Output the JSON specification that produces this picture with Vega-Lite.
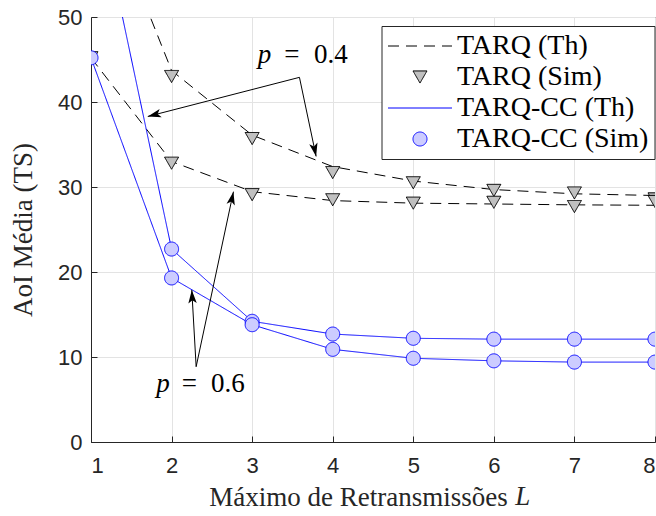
{
  "$schema": "https://vega.github.io/schema/vega-lite/v6.json",
  "width": 564,
  "height": 425,
  "autosize": {"type": "none"},
  "padding": {"left": 91, "top": 17, "right": 1, "bottom": 74},
  "background": "white",
  "config": {
    "font": "Liberation Serif, Times New Roman, DejaVu Serif, serif",
    "view": {"stroke": "#262626", "strokeWidth": 1},
    "axis": {
      "labelFont": "Liberation Sans, Arial, Helvetica, sans-serif",
      "labelFontSize": 22,
      "labelColor": "#262626",
      "titleFont": "Liberation Serif, Times New Roman, DejaVu Serif, serif",
      "titleFontSize": 27,
      "titleFontWeight": "normal",
      "titleColor": "#262626",
      "domainColor": "#262626",
      "domainWidth": 1,
      "tickColor": "#262626",
      "tickSize": -6,
      "tickWidth": 1,
      "gridColor": "#e3e3e3",
      "gridWidth": 1
    },
    "axisX": {"labelPadding": 19},
    "axisY": {"labelPadding": 15},
    "legend": {
      "orient": "none",
      "legendX": 290.5,
      "legendY": 9,
      "direction": "vertical",
      "fillColor": "white",
      "strokeColor": "#262626",
      "padding": 6,
      "rowPadding": 3,
      "labelFont": "Liberation Serif, Times New Roman, DejaVu Serif, serif",
      "labelFontSize": 28,
      "labelColor": "#000000",
      "labelLimit": 400,
      "symbolOffset": 18.5,
      "labelOffset": 23,
      "symbolSize": 196,
      "symbolStrokeWidth": 1
    }
  },
  "datasets": {
    "th": [
      {"series": "TARQ (Th)", "p": 0.4, "L": 1, "v": 67.5},
      {"series": "TARQ (Th)", "p": 0.4, "L": 2, "v": 43.7},
      {"series": "TARQ (Th)", "p": 0.4, "L": 3, "v": 36.1},
      {"series": "TARQ (Th)", "p": 0.4, "L": 4, "v": 32.4},
      {"series": "TARQ (Th)", "p": 0.4, "L": 5, "v": 30.7},
      {"series": "TARQ (Th)", "p": 0.4, "L": 6, "v": 29.7},
      {"series": "TARQ (Th)", "p": 0.4, "L": 7, "v": 29.2},
      {"series": "TARQ (Th)", "p": 0.4, "L": 8, "v": 29.0},
      {"series": "TARQ (Th)", "p": 0.6, "L": 1, "v": 45.2},
      {"series": "TARQ (Th)", "p": 0.6, "L": 2, "v": 33.0},
      {"series": "TARQ (Th)", "p": 0.6, "L": 3, "v": 29.45},
      {"series": "TARQ (Th)", "p": 0.6, "L": 4, "v": 28.4},
      {"series": "TARQ (Th)", "p": 0.6, "L": 5, "v": 28.1},
      {"series": "TARQ (Th)", "p": 0.6, "L": 6, "v": 28.0},
      {"series": "TARQ (Th)", "p": 0.6, "L": 7, "v": 27.9},
      {"series": "TARQ (Th)", "p": 0.6, "L": 8, "v": 27.85},
      {"series": "TARQ-CC (Th)", "p": 0.4, "L": 1, "v": 67.5},
      {"series": "TARQ-CC (Th)", "p": 0.4, "L": 2, "v": 22.7},
      {"series": "TARQ-CC (Th)", "p": 0.4, "L": 3, "v": 14.2},
      {"series": "TARQ-CC (Th)", "p": 0.4, "L": 4, "v": 12.7},
      {"series": "TARQ-CC (Th)", "p": 0.4, "L": 5, "v": 12.2},
      {"series": "TARQ-CC (Th)", "p": 0.4, "L": 6, "v": 12.1},
      {"series": "TARQ-CC (Th)", "p": 0.4, "L": 7, "v": 12.1},
      {"series": "TARQ-CC (Th)", "p": 0.4, "L": 8, "v": 12.1},
      {"series": "TARQ-CC (Th)", "p": 0.6, "L": 1, "v": 45.2},
      {"series": "TARQ-CC (Th)", "p": 0.6, "L": 2, "v": 19.3},
      {"series": "TARQ-CC (Th)", "p": 0.6, "L": 3, "v": 13.8},
      {"series": "TARQ-CC (Th)", "p": 0.6, "L": 4, "v": 10.9},
      {"series": "TARQ-CC (Th)", "p": 0.6, "L": 5, "v": 9.85},
      {"series": "TARQ-CC (Th)", "p": 0.6, "L": 6, "v": 9.55},
      {"series": "TARQ-CC (Th)", "p": 0.6, "L": 7, "v": 9.4},
      {"series": "TARQ-CC (Th)", "p": 0.6, "L": 8, "v": 9.4}
    ],
    "sim": [
      {"series": "TARQ (Sim)", "p": 0.4, "L": 2, "v": 43.0},
      {"series": "TARQ (Sim)", "p": 0.4, "L": 3, "v": 35.7},
      {"series": "TARQ (Sim)", "p": 0.4, "L": 4, "v": 31.7},
      {"series": "TARQ (Sim)", "p": 0.4, "L": 5, "v": 30.5},
      {"series": "TARQ (Sim)", "p": 0.4, "L": 6, "v": 29.6},
      {"series": "TARQ (Sim)", "p": 0.4, "L": 7, "v": 29.3},
      {"series": "TARQ (Sim)", "p": 0.4, "L": 8, "v": 28.6},
      {"series": "TARQ (Sim)", "p": 0.6, "L": 1, "v": 45.2},
      {"series": "TARQ (Sim)", "p": 0.6, "L": 2, "v": 32.8},
      {"series": "TARQ (Sim)", "p": 0.6, "L": 3, "v": 29.1},
      {"series": "TARQ (Sim)", "p": 0.6, "L": 4, "v": 28.5},
      {"series": "TARQ (Sim)", "p": 0.6, "L": 5, "v": 28.1},
      {"series": "TARQ (Sim)", "p": 0.6, "L": 6, "v": 28.2},
      {"series": "TARQ (Sim)", "p": 0.6, "L": 7, "v": 27.7},
      {"series": "TARQ (Sim)", "p": 0.6, "L": 8, "v": 28.3},
      {"series": "TARQ-CC (Sim)", "p": 0.4, "L": 2, "v": 22.7},
      {"series": "TARQ-CC (Sim)", "p": 0.4, "L": 3, "v": 14.2},
      {"series": "TARQ-CC (Sim)", "p": 0.4, "L": 4, "v": 12.7},
      {"series": "TARQ-CC (Sim)", "p": 0.4, "L": 5, "v": 12.2},
      {"series": "TARQ-CC (Sim)", "p": 0.4, "L": 6, "v": 12.1},
      {"series": "TARQ-CC (Sim)", "p": 0.4, "L": 7, "v": 12.1},
      {"series": "TARQ-CC (Sim)", "p": 0.4, "L": 8, "v": 12.1},
      {"series": "TARQ-CC (Sim)", "p": 0.6, "L": 1, "v": 45.2},
      {"series": "TARQ-CC (Sim)", "p": 0.6, "L": 2, "v": 19.3},
      {"series": "TARQ-CC (Sim)", "p": 0.6, "L": 3, "v": 13.8},
      {"series": "TARQ-CC (Sim)", "p": 0.6, "L": 4, "v": 10.9},
      {"series": "TARQ-CC (Sim)", "p": 0.6, "L": 5, "v": 9.85},
      {"series": "TARQ-CC (Sim)", "p": 0.6, "L": 6, "v": 9.55},
      {"series": "TARQ-CC (Sim)", "p": 0.6, "L": 7, "v": 9.4},
      {"series": "TARQ-CC (Sim)", "p": 0.6, "L": 8, "v": 9.4}
    ],
    "arrows": [
      {"L": 3.587, "v": 42.9, "L2": 1.705, "v2": 38.3},
      {"L": 3.587, "v": 42.9, "L2": 3.794, "v2": 33.6},
      {"L": 2.305, "v": 8.86, "L2": 2.251, "v2": 17.88},
      {"L": 2.305, "v": 8.86, "L2": 2.768, "v2": 29.45}
    ],
    "psym": [
      {"L": 3.153, "v": 44.55},
      {"L": 1.893, "v": 5.92}
    ],
    "eqsym": [
      {"L": 3.494, "v": 44.55},
      {"L": 2.222, "v": 5.92}
    ],
    "nums": [
      {"L": 3.978, "v": 44.55, "label": "0.4"},
      {"L": 2.700, "v": 5.92, "label": "0.6"}
    ],
    "xvar": [
      {"L": 6.36, "v": -7.41}
    ]
  },
  "encoding": {
    "x": {
      "field": "L",
      "type": "quantitative",
      "scale": {"domain": [1, 8], "nice": false, "zero": false},
      "axis": {
        "values": [1, 2, 3, 4, 5, 6, 7, 8],
        "format": "d",
        "title": "Máximo de Retransmissões",
        "titleX": 267,
        "titleY": 63,
        "titleAlign": "center",
        "titleBaseline": "alphabetic"
      }
    },
    "y": {
      "field": "v",
      "type": "quantitative",
      "scale": {"domain": [0, 50], "nice": false},
      "axis": {
        "values": [0, 10, 20, 30, 40, 50],
        "title": "AoI Média (TS)",
        "titleX": -60,
        "titleY": 212.5,
        "titleAngle": -90,
        "titleAlign": "center",
        "titleBaseline": "alphabetic"
      }
    }
  },
  "layer": [
    {
      "data": {"name": "th"},
      "mark": {"type": "line", "strokeWidth": 1, "clip": true, "opacity": 1},
      "encoding": {
        "detail": {"field": "p", "type": "nominal"},
        "stroke": {
          "field": "series",
          "type": "nominal",
          "scale": {
            "domain": ["TARQ (Th)", "TARQ (Sim)", "TARQ-CC (Th)", "TARQ-CC (Sim)"],
            "range": ["#000000", "#000000", "#0000ff", "#0000ff"]
          },
          "legend": {"title": null}
        },
        "strokeDash": {
          "field": "series",
          "type": "nominal",
          "scale": {
            "domain": ["TARQ (Th)", "TARQ (Sim)", "TARQ-CC (Th)", "TARQ-CC (Sim)"],
            "range": [[11, 7], [1, 0], [1, 0], [1, 0]]
          },
          "legend": {"title": null}
        }
      }
    },
    {
      "data": {"name": "sim"},
      "mark": {"type": "point", "size": 196, "strokeWidth": 1, "opacity": 1, "clip": true},
      "encoding": {
        "stroke": {
          "field": "series",
          "type": "nominal",
          "scale": {
            "domain": ["TARQ (Th)", "TARQ (Sim)", "TARQ-CC (Th)", "TARQ-CC (Sim)"],
            "range": ["#000000", "#000000", "#0000ff", "#0000ff"]
          },
          "legend": {"title": null}
        },
        "strokeDash": {
          "field": "series",
          "type": "nominal",
          "scale": {
            "domain": ["TARQ (Th)", "TARQ (Sim)", "TARQ-CC (Th)", "TARQ-CC (Sim)"],
            "range": [[11, 7], [1, 0], [1, 0], [1, 0]]
          },
          "legend": {"title": null}
        },
        "fill": {
          "field": "series",
          "type": "nominal",
          "scale": {
            "domain": ["TARQ (Th)", "TARQ (Sim)", "TARQ-CC (Th)", "TARQ-CC (Sim)"],
            "range": ["transparent", "#c0c0c0", "transparent", "#ccccff"]
          },
          "legend": {"title": null}
        },
        "shape": {
          "field": "series",
          "type": "nominal",
          "scale": {
            "domain": ["TARQ (Th)", "TARQ (Sim)", "TARQ-CC (Th)", "TARQ-CC (Sim)"],
            "range": ["M-4.57,0L4.57,0", "triangle-down", "M-4.57,0L4.57,0", "circle"]
          },
          "legend": {"title": null}
        }
      }
    },
    {
      "data": {"name": "arrows"},
      "mark": {"type": "rule", "color": "#000000", "strokeWidth": 1},
      "encoding": {
        "x2": {"field": "L2"},
        "y2": {"field": "v2"}
      }
    },
    {
      "data": {"name": "arrows"},
      "transform": [
        {"calculate": "atan2((datum.L2 - datum.L) * 80.571, (datum.v2 - datum.v) * 8.5) * 180 / PI", "as": "ang"}
      ],
      "mark": {
        "type": "point",
        "shape": "M0,0L0.6,1.9L0,1.45L-0.6,1.9Z",
        "size": 196,
        "filled": true,
        "color": "#000000",
        "opacity": 1,
        "strokeWidth": 0
      },
      "encoding": {
        "x": {"field": "L2", "type": "quantitative"},
        "y": {"field": "v2", "type": "quantitative"},
        "angle": {"field": "ang", "type": "quantitative", "scale": null}
      }
    },
    {
      "data": {"name": "psym"},
      "mark": {"type": "text", "text": "p", "font": "Liberation Serif, Times New Roman, DejaVu Serif, serif", "fontSize": 27, "fontStyle": "italic", "align": "center", "baseline": "alphabetic", "color": "#000000"}
    },
    {
      "data": {"name": "eqsym"},
      "mark": {"type": "text", "text": "=", "font": "Liberation Serif, Times New Roman, DejaVu Serif, serif", "fontSize": 27, "align": "center", "baseline": "alphabetic", "color": "#000000"}
    },
    {
      "data": {"name": "nums"},
      "mark": {"type": "text", "font": "Liberation Serif, Times New Roman, DejaVu Serif, serif", "fontSize": 27, "align": "center", "baseline": "alphabetic", "color": "#000000"},
      "encoding": {"text": {"field": "label", "type": "nominal"}}
    },
    {
      "data": {"name": "xvar"},
      "mark": {"type": "text", "text": "L", "font": "Liberation Serif, Times New Roman, DejaVu Serif, serif", "fontSize": 27, "fontStyle": "italic", "align": "center", "baseline": "alphabetic", "color": "#262626"}
    }
  ]
}
